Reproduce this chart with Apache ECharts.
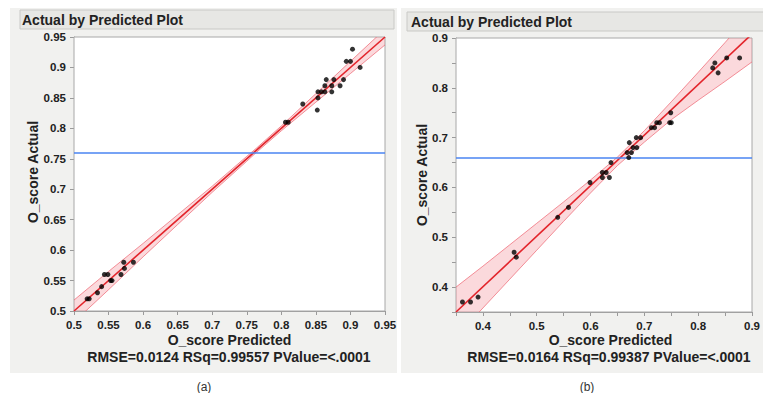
<!DOCTYPE html>
<html>
<head>
<meta charset="utf-8">
<script src="https://cdn.jsdelivr.net/npm/echarts@6/dist/echarts.min.js"></script>
<style>
  html, body { margin: 0; padding: 0; background: #ffffff; }
  #chart { width: 763px; height: 393px; }
</style>
</head>
<body>
<div id="chart"></div>
<script>
// Panel (a): predicted vs actual O_score
const predA = [0.903, 0.894, 0.900, 0.914, 0.865, 0.876, 0.890, 0.863, 0.873, 0.885,
  0.853, 0.858, 0.863, 0.873, 0.853, 0.831, 0.852, 0.806, 0.810,
  0.572, 0.586, 0.573, 0.568, 0.544, 0.549, 0.553, 0.555, 0.540, 0.534, 0.519, 0.522];
const actualA = [0.93, 0.91, 0.91, 0.90, 0.88, 0.88, 0.88, 0.87, 0.87, 0.87,
  0.86, 0.86, 0.86, 0.86, 0.85, 0.84, 0.83, 0.81, 0.81,
  0.58, 0.58, 0.57, 0.56, 0.56, 0.56, 0.55, 0.55, 0.54, 0.53, 0.52, 0.52];
const meanA = 0.764;
const fitXA = [0.5, 0.95];
const fitYA = [0.5, 0.95];
const bandXA = [0.5, 0.55, 0.6, 0.65, 0.7, 0.75, 0.764, 0.8, 0.85, 0.9, 0.95];
const bandLoA = [0.482, 0.535, 0.589, 0.642, 0.695, 0.746, 0.7605, 0.796, 0.843, 0.890, 0.937];
const bandHiA = [0.518, 0.565, 0.611, 0.658, 0.705, 0.754, 0.7675, 0.804, 0.857, 0.910, 0.963];
const statsA = 'RMSE=0.0124 RSq=0.99557 PValue=<.0001';

// Panel (b)
const predB = [0.877, 0.853, 0.831, 0.827, 0.837, 0.749, 0.747, 0.750, 0.723, 0.728,
  0.713, 0.719, 0.685, 0.693, 0.672, 0.679, 0.686, 0.668, 0.676, 0.671,
  0.638, 0.622, 0.629, 0.622, 0.635, 0.599, 0.559, 0.539, 0.458, 0.462,
  0.391, 0.377, 0.362];
const actualB = [0.86, 0.86, 0.85, 0.84, 0.83, 0.75, 0.73, 0.73, 0.73, 0.73,
  0.72, 0.72, 0.70, 0.70, 0.69, 0.68, 0.68, 0.67, 0.67, 0.66,
  0.65, 0.63, 0.63, 0.62, 0.62, 0.61, 0.56, 0.54, 0.47, 0.46,
  0.38, 0.37, 0.37];
const meanB = 0.659;
const fitXB = [0.35, 0.9];
const fitYB = [0.35, 0.908];
const bandXB = [0.35, 0.4, 0.45, 0.5, 0.55, 0.6, 0.65, 0.7, 0.75, 0.8, 0.85, 0.9];
const bandLoB = [0.300, 0.358, 0.416, 0.474, 0.532, 0.589, 0.644, 0.691, 0.736, 0.775, 0.813, 0.852];
const bandHiB = [0.400, 0.442, 0.485, 0.528, 0.571, 0.615, 0.661, 0.714, 0.772, 0.831, 0.891, 0.952];
const statsB = 'RMSE=0.0164 RSq=0.99387 PValue=<.0001';

const panelTitle = 'Actual by Predicted Plot';
const xName = 'O_score Predicted';
const yName = 'O_score Actual';

const FONT = '"Liberation Sans", Arial, Helvetica, sans-serif';
const AXIS_GRAY = '#9a9a9a';
const TEXT = '#222';
const BAND_EDGE = 'rgba(238,100,112,0.7)';

const zip = (xs, ys) => xs.map((x, i) => [x, ys[i]]);

function valueAxis(gridIndex, min, max, step, labelStep) {
  return {
    type: 'value', gridIndex, min, max, interval: step,
    axisLine: { show: true, onZero: false, lineStyle: { color: AXIS_GRAY, width: 1 } },
    axisTick: { show: true, length: 4, lineStyle: { color: AXIS_GRAY } },
    splitLine: { show: false },
    axisLabel: {
      show: true, margin: 8, color: TEXT, fontFamily: FONT, fontWeight: 'bold', fontSize: 11.5,
      showMinLabel: true, showMaxLabel: true,
      formatter: v => {
        const k = Math.round(v / 0.05);
        const ratio = Math.round(labelStep / 0.05);
        if (k % ratio !== 0) return '';
        return String(Math.round(v * 100) / 100);
      }
    }
  };
}

// Confidence band: filled region between the lower and upper curves
function bandSeries(idx, xs, lo, hi) {
  const mid = Math.floor(xs.length / 2);
  return {
    type: 'custom', coordinateSystem: 'cartesian2d', xAxisIndex: idx, yAxisIndex: idx,
    z: 3, clip: true, silent: true,
    encode: { x: 0, y: 1 },
    data: [[xs[mid], (lo[mid] + hi[mid]) / 2]],
    renderItem: (params, api) => {
      const upper = xs.map((x, i) => api.coord([x, hi[i]]));
      const lower = xs.map((x, i) => api.coord([x, lo[i]]));
      const poly = upper.concat(lower.slice().reverse());
      return {
        type: 'group',
        children: [
          { type: 'polygon', shape: { points: poly }, style: { fill: 'rgba(242,120,130,0.28)' } },
          { type: 'polyline', shape: { points: upper }, style: { stroke: BAND_EDGE, lineWidth: 1, fill: 'none' } },
          { type: 'polyline', shape: { points: lower }, style: { stroke: BAND_EDGE, lineWidth: 1, fill: 'none' } }
        ]
      };
    }
  };
}

function fitSeries(idx, xs, ys, mean) {
  return {
    type: 'line', xAxisIndex: idx, yAxisIndex: idx, z: 4, clip: true, silent: true,
    data: zip(xs, ys), showSymbol: false, symbol: 'none',
    lineStyle: { color: '#e3242b', width: 1.6 },
    markLine: {
      silent: true, symbol: ['none', 'none'], label: { show: false },
      lineStyle: { color: '#4a84f2', width: 1.6, type: 'solid' },
      data: [{ yAxis: mean }]
    }
  };
}

function pointSeries(idx, xs, ys) {
  return {
    type: 'scatter', xAxisIndex: idx, yAxisIndex: idx, z: 5, silent: true,
    data: zip(xs, ys), symbol: 'circle', symbolSize: 5,
    itemStyle: { color: '#000' }
  };
}

function txt(x, y, text, opts) {
  return {
    type: 'text', x, y, z: 10, silent: true,
    style: Object.assign({
      text, fill: TEXT, font: 'bold 14px ' + FONT, align: 'center', verticalAlign: 'middle'
    }, opts || {})
  };
}

const chart = echarts.init(document.getElementById('chart'), null, { renderer: 'svg' });

chart.setOption({
  animation: false,
  backgroundColor: '#ffffff',
  grid: [
    { left: 74, top: 37, width: 311, height: 274, show: true, backgroundColor: '#ffffff', borderColor: '#a8a8a8', borderWidth: 1, z: 1 },
    { left: 456, top: 38, width: 309.4, height: 274, show: true, backgroundColor: '#ffffff', borderColor: '#a8a8a8', borderWidth: 1, z: 1 }
  ],
  xAxis: [
    valueAxis(0, 0.5, 0.95, 0.05, 0.05),
    valueAxis(1, 0.35, 0.9, 0.05, 0.1)
  ],
  yAxis: [
    valueAxis(0, 0.5, 0.95, 0.05, 0.05),
    valueAxis(1, 0.35, 0.9, 0.05, 0.1)
  ],
  series: [
    bandSeries(0, bandXA, bandLoA, bandHiA),
    fitSeries(0, fitXA, fitYA, meanA),
    pointSeries(0, predA, actualA),
    bandSeries(1, bandXB, bandLoB, bandHiB),
    fitSeries(1, fitXB, fitYB, meanB),
    pointSeries(1, predB, actualB)
  ],
  graphic: {
    elements: [
      // report panels
      { type: 'rect', z: 0, silent: true, shape: { x: 10, y: 8, width: 387, height: 365 }, style: { fill: '#f1f1ef' } },
      { type: 'rect', z: 0, silent: true, shape: { x: 401, y: 8, width: 362, height: 365 }, style: { fill: '#f1f1ef' } },
      // outline title bars
      { type: 'rect', z: 0, silent: true, shape: { x: 20, y: 10, width: 374, height: 19 }, style: { fill: '#e7e7e4', stroke: '#c9c9c6', lineWidth: 1 } },
      { type: 'rect', z: 0, silent: true, shape: { x: 407, y: 12, width: 360, height: 19 }, style: { fill: '#e7e7e4', stroke: '#c9c9c6', lineWidth: 1 } },
      txt(22, 20, panelTitle, { align: 'left' }),
      txt(411, 22, panelTitle, { align: 'left' }),
      // axis titles
      txt(229.5, 340, xName),
      txt(610.5, 340, xName),
      Object.assign(txt(0, 0, yName), { x: 33, y: 172, rotation: Math.PI / 2 }),
      Object.assign(txt(0, 0, yName), { x: 422, y: 175, rotation: Math.PI / 2 }),
      // fit statistics
      txt(229, 357, statsA),
      txt(609, 357, statsB),
      // panel captions
      txt(204, 387, '(a)', { font: '12px ' + FONT, fill: '#333' }),
      txt(587, 387, '(b)', { font: '12px ' + FONT, fill: '#333' })
    ]
  }
});
</script>
</body>
</html>
